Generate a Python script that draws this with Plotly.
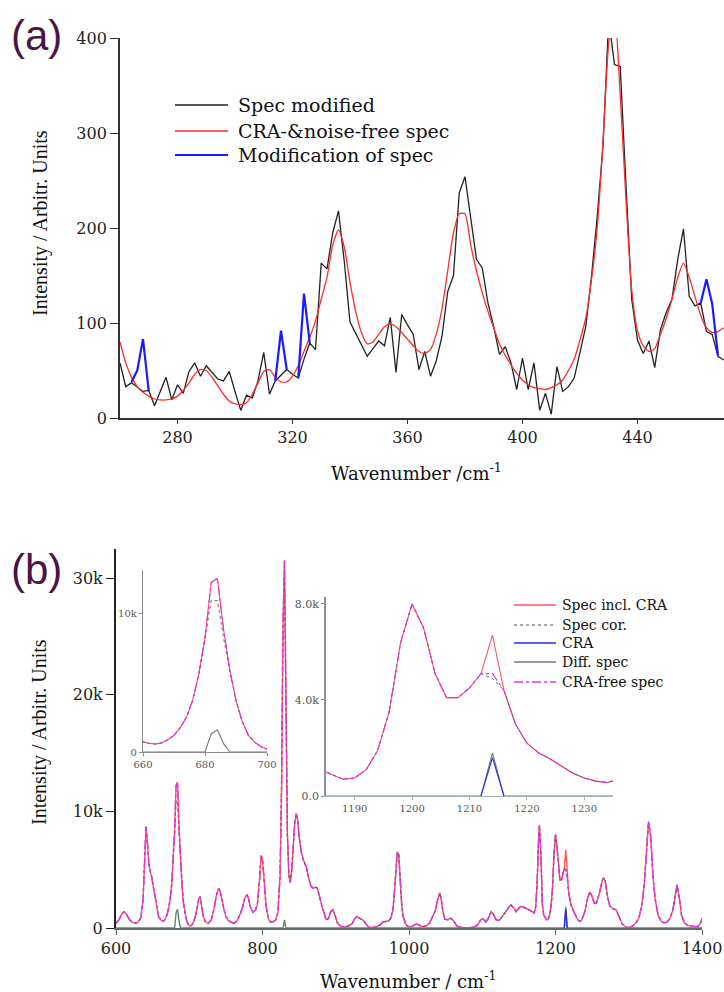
import plotly.graph_objects as go

W, H = 724, 992

# ---------------- panel (a): low-wavenumber region ----------------
wn_a = [260, 262, 264, 266, 268, 270, 272, 274, 276, 278,
        280, 282, 284, 286, 288, 290, 292, 294, 296, 298,
        300, 302, 304, 306, 308, 310, 312, 314, 316, 318,
        320, 322, 324, 326, 328, 330, 332, 334, 336, 338,
        340, 342, 344, 346, 348, 350, 352, 354, 356, 358,
        360, 362, 364, 366, 368, 370, 372, 374, 376, 378,
        380, 382, 384, 386, 388, 390, 392, 394, 396, 398,
        400, 402, 404, 406, 408, 410, 412, 414, 416, 418,
        420, 422, 424, 426, 428, 430, 432, 434, 436, 438,
        440, 442, 444, 446, 448, 450, 452, 454, 456, 458,
        460, 462, 464, 466, 468, 470]

spec_modified = [58, 33, 37, 32, 28, 29, 13, 28, 43, 19,
                 35, 26, 49, 58, 44, 55, 48, 41, 39, 49,
                 28, 8, 24, 21, 39, 69, 25, 39, 45, 51,
                 46, 42, 62, 79, 72, 163, 157, 195, 218, 165,
                 101, 89, 77, 65, 73, 81, 76, 106, 48, 109,
                 98, 88, 51, 70, 44, 60, 86, 133, 150, 237,
                 254, 212, 167, 158, 121, 96, 67, 75, 58, 30,
                 63, 30, 58, 8, 26, 4, 54, 28, 33, 42,
                 68, 96, 149, 212, 286, 420, 372, 370, 245, 125,
                 82, 68, 81, 53, 93, 111, 125, 167, 199, 128,
                 118, 121, 91, 88, 65, 61]

cra_noise_free = [80, 58, 43, 33, 27, 23, 20, 19, 19, 20,
                  23, 29, 37, 46, 51, 50, 43, 34, 25, 18,
                  15, 14, 16, 25, 37, 49, 51, 43, 38, 38,
                  44, 55, 70, 85, 102, 125, 148, 182, 198, 180,
                  143, 112, 90, 78, 80, 88, 96, 99, 96, 90,
                  83, 76, 70, 68, 72, 88, 115, 155, 195, 215,
                  215, 182, 155, 132, 112, 95, 78, 66, 56, 47,
                  40, 35, 32, 31, 30, 32, 35, 40, 50, 62,
                  82, 105, 145, 200, 290, 395, 430, 340, 230, 135,
                  92, 76, 70, 73, 88, 105, 125, 148, 163, 148,
                  128, 108, 95, 90, 91, 95]

# modified stretches of the spectrum (gaps separate the stretches)
mod_x = [264, 266, 268, 270, None, 314, 316, 318, None,
         322, 324, 326, None, 462, 464, 466, 468]
mod_y = [38, 50, 83, 28, None, 39, 92, 51, None,
         42, 131, 79, None, 121, 146, 120, 66]

# ---------------- panel (b): full spectrum ----------------
wn_b = [600, 604, 608, 611, 614, 618, 622, 626, 630, 634, 637, 639, 641, 643,
        645, 647, 649, 651, 653, 656, 658,
        660, 662, 664, 666, 668, 670, 672, 674, 676, 678, 680, 682, 684, 686,
        688, 690, 692, 694, 696, 698, 700,
        702, 705, 708, 711, 713, 715, 717, 719, 722, 726, 730, 734, 737, 740,
        742, 744, 747, 750, 753, 757, 761, 765, 769, 773, 776, 779, 781, 784,
        787, 790, 793, 796, 798, 800, 802, 805, 808, 811, 815, 818, 821, 824,
        826, 828, 830, 832, 834, 836, 838, 840, 842, 844, 846, 848, 850, 853,
        856, 860, 863, 866, 869, 872, 875, 878, 881, 884, 887, 890, 893, 896,
        899, 902, 906, 910, 914, 918, 922, 926, 929, 932, 935, 938, 941, 945,
        950, 955, 960, 964, 968, 972, 975, 978, 980, 982, 984, 986, 988, 990,
        992, 995, 998, 1002, 1006, 1010, 1013, 1016, 1020, 1024, 1028, 1032,
        1036, 1039, 1042, 1044, 1046, 1049, 1053, 1057, 1061, 1065, 1070, 1075,
        1080, 1085, 1090, 1094, 1098, 1101, 1105, 1108, 1112, 1115, 1119, 1123,
        1127, 1131, 1135, 1139, 1143, 1146, 1149, 1152, 1156, 1160, 1164, 1168,
        1171, 1173, 1175, 1177, 1178, 1180, 1182,
        1184, 1186, 1188, 1190, 1192, 1194, 1196, 1198, 1200, 1202, 1204, 1206,
        1208, 1210, 1212, 1214, 1216, 1218, 1220, 1222, 1224, 1226, 1228, 1230,
        1232, 1234, 1236,
        1240, 1244, 1247, 1250, 1253, 1256, 1260, 1264, 1266, 1268, 1271, 1274,
        1278, 1283, 1287, 1291, 1296, 1300, 1305, 1310, 1314, 1318, 1321, 1324,
        1327, 1330, 1333, 1336, 1340, 1344, 1348, 1352, 1356, 1360, 1363, 1366,
        1369, 1372, 1376, 1380, 1385, 1390, 1394, 1398, 1400]

spec_incl_cra = [400, 700, 1200, 1400, 1200, 750, 500, 400, 500, 900, 2500, 6000, 8700, 7200,
                 5400, 4800, 4300, 3500, 2600, 1700, 1000,
                 740, 620, 580, 650, 880, 1200, 1750, 2500, 3700, 5600, 8200, 12200, 12500, 8800,
                 5900, 3700, 2200, 1200, 700, 400, 200,
                 180, 400, 900, 1700, 2500, 2700, 2000, 1000, 550, 400, 700, 1700, 2800, 3400,
                 3200, 2500, 1700, 1000, 650, 500, 400, 600, 1100, 1800, 2600, 2850, 2500, 1700,
                 1350, 1500, 2000, 4200, 6200, 5900, 4000, 1800, 800, 500, 550, 700, 1300, 4500,
                 12000, 26000, 31500, 18000, 8000, 4500, 3900, 5000, 7000, 9000, 9800, 9300, 7800, 6500,
                 5800, 5200, 4300, 3600, 3400, 3500, 3400, 2500, 1900, 1300, 700, 800, 1400, 1550,
                 1100, 450, 200, 100, 110, 200, 350, 800, 1000, 850, 750, 650, 350, 80,
                 40, 100, 250, 500, 560, 600, 800, 1500, 3000, 5200, 6500, 6300, 4200, 2000,
                 1000, 400, 150, 100, 200, 350, 280, 150, 120, 200, 400, 900,
                 1500, 2400, 3000, 2500, 1500, 750, 700, 850, 600, 200, 60, 20,
                 10, 40, 100, 300, 700, 800, 500, 800, 1400, 1200, 700, 650,
                 950, 1300, 1700, 2000, 1700, 1400, 1600, 1850, 1800, 1700, 1550, 1400,
                 1300, 1800, 4000, 7800, 8800, 6500, 2000,
                 1100, 900, 700, 750, 1100, 1900, 3500, 6400, 8000, 7000, 5100, 4100,
                 4100, 4500, 5100, 6700, 4400, 3000, 2200, 1800, 1550, 1250, 950, 750,
                 620, 560, 700,
                 1400, 2600, 3100, 2700, 2100, 2150, 3000, 4100, 4300, 4000, 2700, 1900,
                 1650, 1550, 900, 350, 80, 30, 150, 450, 900, 2000, 3600, 6500,
                 9100, 7800, 4500, 2500, 1100, 600, 450, 500, 800, 1500, 2800, 3700,
                 2600, 1100, 450, 250, 150, 100, 120, 400, 830]

# difference spectrum (spec incl. CRA minus corrected spec)
diff_x = [600, 678, 680, 682, 684, 686, 688, 690, 826, 828, 830, 832, 834,
          1210, 1212, 1214, 1216, 1218, 1400]
diff_y = [0, 0, 0, 1300, 1600, 600, 0, 0, 0, 0, 700, 0, 0,
          0, 0, 1800, 0, 0, 0]

# detected cosmic-ray artefact
cra_x = [1212, 1214, 1216]
cra_y = [0, 1600, 0]

diff_at = dict(zip(diff_x, diff_y))
cra_at = dict(zip(cra_x, cra_y))
spec_cor = [v - diff_at.get(x, 0) for x, v in zip(wn_b, spec_incl_cra)]
cra_free = [v - cra_at.get(x, 0) for x, v in zip(wn_b, spec_incl_cra)]

# ---------------- styling ----------------
SERIF = "DejaVu Serif"
TIMES = "Liberation Serif"
SANS = "Liberation Sans"
C_BLACK = "#222222"
C_RED_A = "#ff2a2a"
C_BLUE_A = "#1a1aff"
C_RED_B = "#ff5757"
C_COR = "#555555"
C_CRA = "#2a2ae8"
C_DIFF = "#6d7d7d"
C_FREE = "#e433e4"


def fx(px):
    return px / W


def fy(py):
    return 1 - py / H


fig = go.Figure()

# panel (a)
fig.add_trace(go.Scatter(x=wn_a, y=spec_modified, mode="lines",
                         line=dict(color=C_BLACK, width=1.3),
                         xaxis="x", yaxis="y", showlegend=False))
fig.add_trace(go.Scatter(x=wn_a, y=cra_noise_free, mode="lines",
                         line=dict(color=C_RED_A, width=1.3, shape="spline", smoothing=0.6),
                         xaxis="x", yaxis="y", showlegend=False))
fig.add_trace(go.Scatter(x=mod_x, y=mod_y, mode="lines", connectgaps=False,
                         line=dict(color=C_BLUE_A, width=2.2),
                         xaxis="x", yaxis="y", showlegend=False))

# panel (b): main plot and the two zoomed insets share the same series
for xa, ya, w in (("x2", "y2", 1.4), ("x3", "y3", 1.1), ("x4", "y4", 1.1)):
    fig.add_trace(go.Scatter(x=wn_b, y=spec_incl_cra, mode="lines",
                             line=dict(color=C_RED_B, width=w),
                             xaxis=xa, yaxis=ya, showlegend=False))
    fig.add_trace(go.Scatter(x=wn_b, y=spec_cor, mode="lines",
                             line=dict(color=C_COR, width=w * 0.8, dash="dot"),
                             xaxis=xa, yaxis=ya, showlegend=False))
    fig.add_trace(go.Scatter(x=diff_x, y=diff_y, mode="lines",
                             line=dict(color=C_DIFF, width=w),
                             xaxis=xa, yaxis=ya, showlegend=False))
    fig.add_trace(go.Scatter(x=cra_x, y=cra_y, mode="lines",
                             line=dict(color=C_CRA, width=w),
                             xaxis=xa, yaxis=ya, showlegend=False))
    fig.add_trace(go.Scatter(x=wn_b, y=cra_free, mode="lines",
                             line=dict(color=C_FREE, width=w, dash="dashdot"),
                             xaxis=xa, yaxis=ya, showlegend=False))

tick_font = dict(family=SERIF, size=16, color="#222222")
inset_x_font = dict(family=SERIF, size=10, color="#555555")
inset_y_font = dict(family=SERIF, size=11, color="#555555")


def axis(domain, rng, anchor, tickvals, ticktext=None, color="#333333", lw=1.8,
         ticklen=5, tickfont=tick_font):
    d = dict(domain=domain, range=rng, anchor=anchor, tickvals=tickvals, showline=True,
             linecolor=color, linewidth=lw, ticks="outside", ticklen=ticklen, tickwidth=1.3,
             tickcolor=color, showgrid=False, zeroline=False, tickfont=tickfont,
             automargin=False)
    if ticktext is not None:
        d["ticktext"] = ticktext
    return d


fig.update_layout(
    template="none",
    width=W, height=H,
    margin=dict(l=0, r=0, t=0, b=0, pad=0),
    paper_bgcolor="white", plot_bgcolor="white",
    showlegend=False,
    xaxis=axis([fx(120), 1.0], [260, 470.1], "y", [280, 320, 360, 400, 440], ticklen=4),
    yaxis=axis([fy(418), fy(38)], [0, 400], "x", [0, 100, 200, 300, 400], ticklen=8),
    xaxis2=axis([fx(116), fx(702)], [600, 1400], "y2", [600, 800, 1000, 1200, 1400],
                color="#5f6b6b", lw=1.6, ticklen=5),
    yaxis2=axis([fy(928), fy(549)], [0, 32490], "x2", [0, 10000, 20000, 30000],
                ["0", "10k", "20k", "30k"], color="#222222", lw=2, ticklen=8),
    xaxis3=axis([fx(143), fx(267)], [660, 700], "y3", [660, 680, 700],
                color="#8a8a8a", lw=1.2, ticklen=3, tickfont=inset_x_font),
    yaxis3=axis([fy(752), fy(570)], [0, 13100], "x3", [0, 10000], ["0", "10k"],
                color="#8a8a8a", lw=1.2, ticklen=3, tickfont=inset_x_font),
    xaxis4=axis([fx(326), fx(613)], [1185, 1235], "y4", [1190, 1200, 1210, 1220, 1230],
                color="#9fb4b4", lw=1.4, ticklen=3, tickfont=inset_x_font),
    yaxis4=axis([fy(796), fy(597)], [0, 8290], "x4", [0, 4000, 8000],
                ["0.0", "4.0k", "8.0k"], color="#8b8f9a", lw=1.6, ticklen=3,
                tickfont=inset_y_font),
)

annotations = []
shapes = []


def label(text, px, py, size, family=SERIF, color="#111111", xanchor="left", angle=0):
    annotations.append(dict(text=text, x=fx(px), y=fy(py), xref="paper", yref="paper",
                            xanchor=xanchor, yanchor="middle", showarrow=False,
                            textangle=angle, font=dict(family=family, size=size, color=color)))


def legend_line(x0, x1, py, color, width, dash="solid"):
    shapes.append(dict(type="line", xref="paper", yref="paper",
                       x0=fx(x0), x1=fx(x1), y0=fy(py), y1=fy(py),
                       line=dict(color=color, width=width, dash=dash)))


# panel letters
label("(a)", 36, 36, 42, family=SANS, color="#4b1543", xanchor="center")
label("(b)", 36, 569, 42, family=SANS, color="#4b1543", xanchor="center")

# axis titles
label("Intensity / Arbitr. Units", 40, 223, 20, family=TIMES, xanchor="center", angle=-90)
label("Intensity / Arbitr. Units", 39, 732, 20, family=TIMES, xanchor="center", angle=-90)
label("Wavenumber /cm<sup>-1</sup>", 416, 472, 18, xanchor="center")
label("Wavenumber / cm<sup>-1</sup>", 408, 980, 18, xanchor="center")

# legend of panel (a)
legend_a = [("Spec modified", C_BLACK, 1.3), ("CRA-&noise-free spec", C_RED_A, 1.3),
            ("Modification of spec", C_BLUE_A, 2.2)]
for (txt, col, w), py in zip(legend_a, (105, 131, 155)):
    legend_line(175, 228, py, col, w)
    label(txt, 236, py, 19)

# legend of panel (b)
legend_b = [("Spec incl. CRA", C_RED_B, 1.4, "solid"), ("Spec cor.", C_COR, 1.1, "dot"),
            ("CRA", C_CRA, 1.6, "solid"), ("Diff. spec", C_DIFF, 1.6, "solid"),
            ("CRA-free spec", C_FREE, 1.4, "dashdot")]
for (txt, col, w, d), py in zip(legend_b, (605, 625, 643, 662, 682)):
    legend_line(514, 556, py, col, w, d)
    label(txt, 560, py, 14)

fig.update_layout(annotations=annotations, shapes=shapes)

fig.write_html("out.html")
